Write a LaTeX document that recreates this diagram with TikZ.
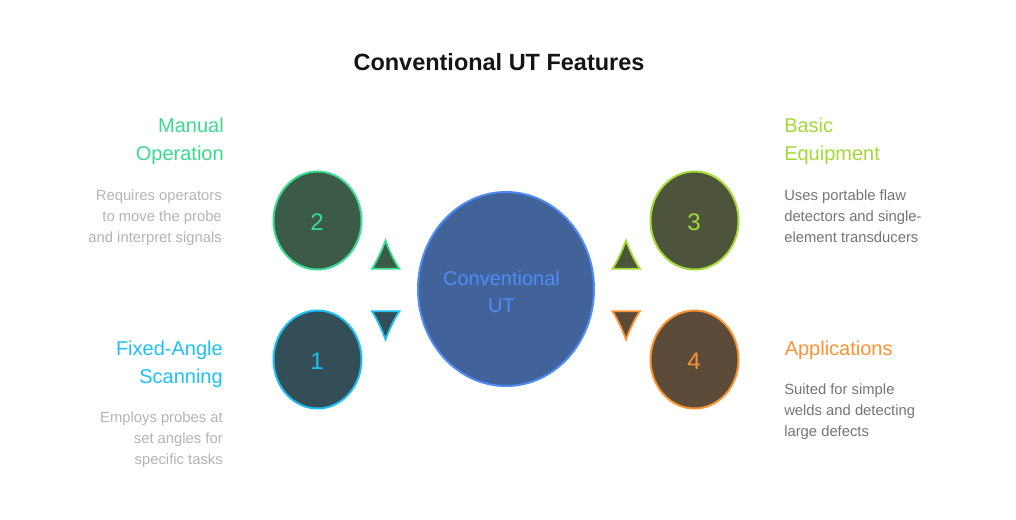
\documentclass[tikz,border=0pt]{standalone}
\usepackage{fontspec}
\setmainfont{Liberation Sans}
\usetikzlibrary{shapes.geometric}
\definecolor{cgreen}{HTML}{3BDB8F}\definecolor{fgreen}{HTML}{3C5A48}
\definecolor{ccyan}{HTML}{1CC0F5}\definecolor{fcyan}{HTML}{344E57}
\definecolor{clime}{HTML}{A2D934}\definecolor{flime}{HTML}{4D543B}
\definecolor{corange}{HTML}{FC9333}\definecolor{forange}{HTML}{5C4B39}
\definecolor{cblue}{HTML}{4F8CF6}\definecolor{fblue}{HTML}{426399}
\definecolor{greyl}{HTML}{B4B4B4}\definecolor{greyr}{HTML}{757575}
\tikzset{
  x=0.75pt,y=-0.75pt,
  oval/.style={ellipse,draw=#1,line width=1.5pt,inner sep=0pt,text=#1,minimum width=66pt,minimum height=73.5pt},
  numlabel/.style={text=#1,inner sep=0pt,font=\fontsize{18}{21}\selectfont},
  tri/.style={draw=#1,line width=1.35pt,line join=miter},
  headl/.style={text=#1,anchor=north east,align=right,inner sep=0pt,font=\fontsize{15}{21}\selectfont},
  headr/.style={text=#1,anchor=north west,align=left,inner sep=0pt,font=\fontsize{15}{21}\selectfont},
  descl/.style={text=greyl,anchor=north east,align=right,inner sep=0pt,font=\fontsize{11.1}{15.75}\selectfont},
  descr/.style={text=greyr,anchor=north west,align=left,inner sep=0pt,font=\fontsize{11.1}{15.75}\selectfont},
}
\begin{document}
\begin{tikzpicture}
\useasboundingbox (0,0) rectangle (1016,519);
\node[text=black!92,font=\bfseries\fontsize{17.6}{22}\selectfont] (title) at (499,62) {Conventional UT Features};
\node[oval=cblue,fill=fblue,minimum width=132pt,minimum height=145.5pt] (center) at (506,289) {};
\node[text=cblue,align=center,font=\fontsize{15}{20.6}\selectfont] (centerlabel) at (501.5,292) {Conventional\\UT};
\node[oval=cgreen,fill=fgreen] (n2) at (317.5,220.5) {};
\node[oval=ccyan,fill=fcyan] (n1) at (317.5,359.5) {};
\node[oval=clime,fill=flime] (n3) at (694.5,220.5) {};
\node[oval=corange,fill=forange] (n4) at (694.5,359.5) {};
\node[numlabel=cgreen] (l2) at (317,222) {2};
\node[numlabel=ccyan] (l1) at (317,361) {1};
\node[numlabel=clime] (l3) at (694,222) {3};
\node[numlabel=corange] (l4) at (694,361) {4};
\draw[tri=cgreen,fill=fgreen] (385.5,240.5) .. controls (382,250) and (377,261) .. (372,268.8) -- (399.5,268.8) .. controls (394,261) and (389,250) .. (385.5,240.5) -- cycle;
\draw[tri=ccyan,fill=fcyan] (385.5,339.5) .. controls (382,330) and (377,319) .. (372,311.2) -- (399.5,311.2) .. controls (394,319) and (389,330) .. (385.5,339.5) -- cycle;
\draw[tri=clime,fill=flime] (626,240.5) .. controls (622.5,250) and (617.5,261) .. (612.5,268.8) -- (640,268.8) .. controls (634.5,261) and (629.5,250) .. (626,240.5) -- cycle;
\draw[tri=corange,fill=forange] (626,339.5) .. controls (622.5,330) and (617.5,319) .. (612.5,311.2) -- (640,311.2) .. controls (634.5,319) and (629.5,330) .. (626,339.5) -- cycle;
\node[headl=cgreen] (h2) at (224,118) {Manual\\Operation};
\node[descl] (d2) at (222,189.4) {Requires operators\\to move the probe\\and interpret signals};
\node[headl=ccyan] (h1) at (223,341) {Fixed-Angle\\Scanning};
\node[descl] (d1) at (223,411) {Employs probes at\\set angles for\\specific tasks};
\node[headr=clime] (h3) at (784,118) {Basic\\Equipment};
\node[descr] (d3) at (784,189.4) {Uses portable flaw\\detectors and single-\\element transducers};
\node[headr=corange] (h4) at (784.5,341) {Applications};
\node[descr] (d4) at (784,383.5) {Suited for simple\\welds and detecting\\large defects};
\end{tikzpicture}
\end{document}
